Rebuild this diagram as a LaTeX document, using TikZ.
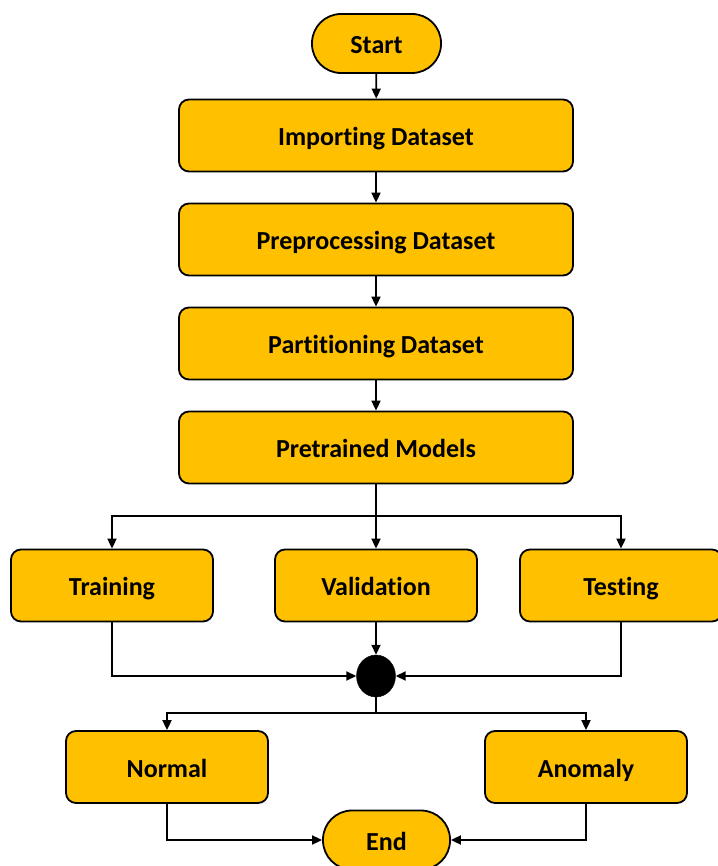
\documentclass[tikz,border=0pt]{standalone}
\usepackage{fontspec}
\setmainfont{Carlito}[Ligatures={NoCommon}]
\usetikzlibrary{arrows.meta,shapes.geometric}
\definecolor{boxfill}{HTML}{FFC000}
\tikzset{
  box/.style={draw=black, line width=1.8pt, fill=boxfill, rounded corners=10pt,
    minimum width=394pt, minimum height=72pt, inner sep=0pt,
    text height=20pt, text depth=0pt,
    font=\fontsize{26}{30}\selectfont\bfseries},
  smallbox/.style={box, minimum width=202pt},
  term/.style={box, minimum width=129pt, minimum height=59pt, rounded corners=29pt},
  junction/.style={draw=black, fill=black, ellipse, minimum width=39pt, minimum height=42pt, inner sep=0pt},
  conn/.style={draw=black, line width=1.8pt},
  arr/.style={conn, -{Triangle[length=10pt,width=9pt]}},
}
\begin{document}
\begin{tikzpicture}[x=1pt,y=-1pt]
\useasboundingbox (0,0) rectangle (717,866);
\node[term] (start) at (376.5,43.5) {Start};
\node[box] (imp) at (376,135.5) {Importing Dataset};
\node[box] (pre) at (376,239.5) {Preprocessing Dataset};
\node[box] (part) at (376,343.5) {Partitioning Dataset};
\node[box] (pret) at (376,447.5) {Pretrained Models};
\node[smallbox] (train) at (112,585.5) {Training};
\node[smallbox] (valid) at (376,585.5) {Validation};
\node[smallbox] (test) at (621,585.5) {Testing};
\node[junction] (junc) at (376,676) {};
\node[smallbox] (normal) at (167,767) {Normal};
\node[smallbox] (anom) at (586,767) {Anomaly};
\node[term, minimum width=127pt] (end) at (386.5,840) {End};
\coordinate (b1) at (376,516);
\coordinate (b2) at (376,713);
\draw[arr] (start) -- (imp);
\draw[arr] (imp) -- (pre);
\draw[arr] (pre) -- (part);
\draw[arr] (part) -- (pret);
\draw[arr] (pret) -- (valid);
\draw[arr] (b1) -| (train);
\draw[arr] (b1) -| (test);
\draw[arr] (train.south) |- (junc.west);
\draw[arr] (valid) -- (junc);
\draw[arr] (test.south) |- (junc.east);
\draw[conn] (junc) -- (b2);
\draw[arr] (b2) -| (normal);
\draw[arr] (b2) -| (anom);
\draw[arr] (normal.south) |- (end.west);
\draw[arr] (anom.south) |- (end.east);
\end{tikzpicture}
\end{document}
